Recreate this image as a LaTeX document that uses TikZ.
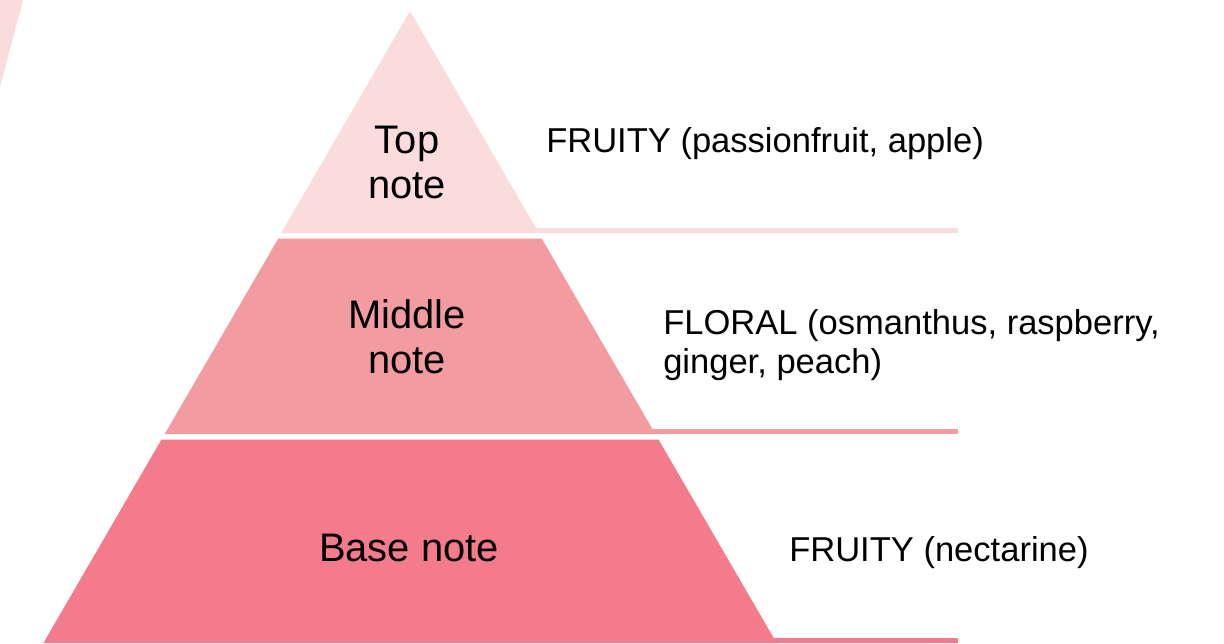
\documentclass[tikz,border=0pt]{standalone}
\usepackage{fontspec}
\setmainfont{Liberation Sans}
\definecolor{toppink}{HTML}{F9DCDB}
\definecolor{midpink}{HTML}{F29CA1}
\definecolor{basepink}{HTML}{F37B8B}
\begin{document}
\begin{tikzpicture}[x=0.75pt,y=-0.75pt,
  band/.style={draw=none},
  biglabel/.style={anchor=base,inner sep=0pt,font=\fontsize{29.9}{36}\selectfont},
  sidelabel/.style={anchor=base west,inner sep=0pt,font=\fontsize{25.9}{31}\selectfont}]
\useasboundingbox (0,0) rectangle (1224,643);
% corner decoration
\fill[toppink] (0,0) -- (23,0) -- (0,87) -- cycle;
% top band
\coordinate (apex) at (410,11);
\fill[toppink] (apex) -- (281.2,233) -- (538.8,233) -- cycle;
\fill[toppink] (525,227.5) rectangle (958,233);
% middle band
\fill[midpink] (278.3,238.5) -- (541.7,238.5) -- (655.3,434) -- (164.7,434) -- cycle;
\fill[midpink] (630,428.5) rectangle (958,434);
% base band
\fill[basepink] (161.5,439.5) -- (658.5,439.5) -- (776.6,643) -- (43.4,643) -- cycle;
\fill[basepink] (750,637.5) rectangle (958,643);
% left labels
\node[biglabel] (top1) at (407,153) {Top};
\node[biglabel] (top2) at (407,198.5) {note};
\node[biglabel] (mid1) at (407,328) {Middle};
\node[biglabel] (mid2) at (407,373) {note};
\node[biglabel] (base1) at (409,561) {Base note};
% right labels
\node[sidelabel] (topr) at (546,152.5) {FRUITY (passionfruit, apple)};
\node[sidelabel] (midr1) at (663,334.5) {FLORAL (osmanthus, raspberry,};
\node[sidelabel] (midr2) at (663,373) {ginger, peach)};
\node[sidelabel] (baser) at (789,561.5) {FRUITY (nectarine)};
\end{tikzpicture}
\end{document}
